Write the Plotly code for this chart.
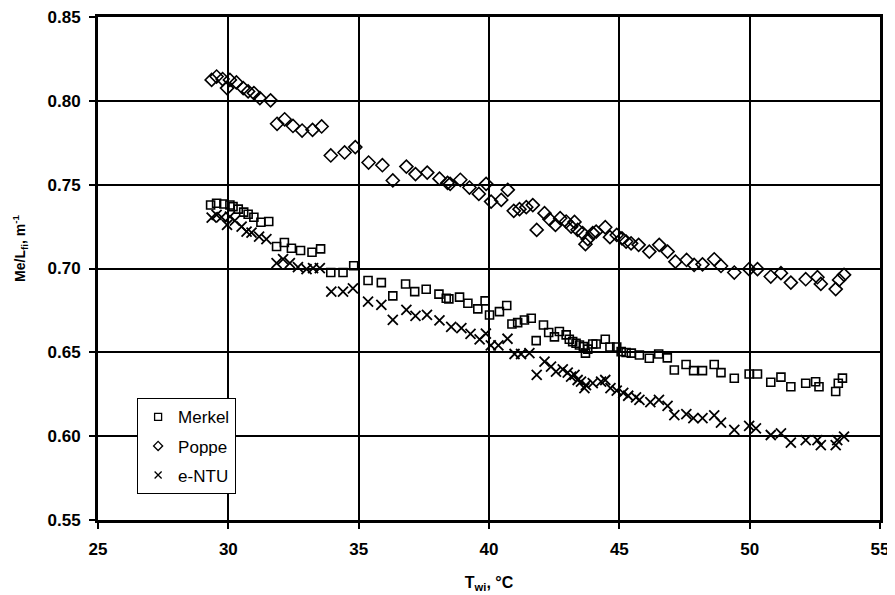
import plotly.graph_objects as go

merkel_x = [29.32, 29.55, 29.83, 30.06, 30.18, 30.38, 30.59, 30.76, 30.98, 31.25, 31.55,
            31.85, 32.15, 32.42, 32.77, 33.21, 33.54, 33.93, 34.40, 34.81, 35.36, 35.87,
            36.31, 36.80, 37.15, 37.59, 38.08, 38.36, 38.46, 38.87, 39.19, 39.57, 39.85,
            40.02, 40.40, 40.68, 40.88, 41.10, 41.36, 41.62, 41.81, 42.09, 42.29, 42.51,
            42.70, 42.96, 43.08, 43.21, 43.34, 43.47, 43.62, 43.70, 43.79, 43.98, 44.11,
            44.46, 44.64, 44.90, 45.07, 45.26, 45.46, 45.77, 46.15, 46.51, 46.84, 47.11,
            47.56, 47.85, 48.19, 48.64, 48.90, 49.41, 49.98, 50.30, 50.81, 51.20, 51.58,
            52.15, 52.53, 52.66, 53.30, 53.40, 53.56]
merkel_y = [0.7379, 0.7389, 0.7385, 0.7379, 0.7369, 0.7354, 0.7336, 0.7324, 0.7306, 0.7276, 0.7280,
            0.7131, 0.7155, 0.7121, 0.7107, 0.7097, 0.7117, 0.6976, 0.6976, 0.7016, 0.6928, 0.6916,
            0.6837, 0.6908, 0.6862, 0.6876, 0.6847, 0.6823, 0.6819, 0.6829, 0.6793, 0.6759, 0.6807,
            0.6723, 0.6743, 0.6779, 0.6669, 0.6677, 0.6693, 0.6703, 0.6570, 0.6663, 0.6618, 0.6592,
            0.6624, 0.6604, 0.6578, 0.6564, 0.6554, 0.6544, 0.6534, 0.6495, 0.6519, 0.6550, 0.6550,
            0.6578, 0.6532, 0.6532, 0.6504, 0.6499, 0.6495, 0.6484, 0.6465, 0.6490, 0.6467, 0.6395,
            0.6427, 0.6391, 0.6391, 0.6427, 0.6379, 0.6345, 0.6371, 0.6371, 0.6322, 0.6352, 0.6295,
            0.6316, 0.6325, 0.6295, 0.6266, 0.6316, 0.6346]

poppe_x = [29.36, 29.55, 29.78, 29.95, 30.06, 30.31, 30.57, 30.76, 30.98, 31.21, 31.62,
           31.87, 32.16, 32.48, 32.83, 33.23, 33.58, 33.93, 34.46, 34.87, 35.38, 35.91,
           36.31, 36.83, 37.18, 37.63, 38.10, 38.41, 38.51, 38.90, 39.25, 39.61, 39.89,
           40.08, 40.47, 40.72, 40.95, 41.17, 41.43, 41.68, 41.83, 42.13, 42.32, 42.55,
           42.73, 42.96, 43.15, 43.28, 43.40, 43.59, 43.70, 43.79, 43.98, 44.11, 44.46,
           44.64, 44.90, 45.10, 45.26, 45.45, 45.74, 46.15, 46.53, 46.85, 47.15, 47.58,
           47.87, 48.19, 48.64, 48.90, 49.41, 49.98, 50.30, 50.81, 51.20, 51.58, 52.15,
           52.60, 52.73, 53.30, 53.43, 53.62]
poppe_y = [0.8125, 0.8145, 0.8130, 0.8076, 0.8125, 0.8110, 0.8076, 0.8056, 0.8046, 0.8016, 0.8003,
           0.7863, 0.7890, 0.7850, 0.7823, 0.7827, 0.7847, 0.7674, 0.7692, 0.7724, 0.7632, 0.7616,
           0.7525, 0.7608, 0.7563, 0.7572, 0.7536, 0.7511, 0.7505, 0.7529, 0.7483, 0.7445, 0.7505,
           0.7399, 0.7409, 0.7469, 0.7344, 0.7354, 0.7366, 0.7378, 0.7230, 0.7330, 0.7294, 0.7260,
           0.7300, 0.7280, 0.7250, 0.7278, 0.7231, 0.7211, 0.7145, 0.7175, 0.7211, 0.7220, 0.7246,
           0.7187, 0.7200, 0.7180, 0.7161, 0.7150, 0.7141, 0.7101, 0.7141, 0.7101, 0.7041, 0.7051,
           0.7021, 0.7025, 0.7055, 0.7015, 0.6976, 0.6996, 0.6996, 0.6952, 0.6972, 0.6916, 0.6936,
           0.6948, 0.6908, 0.6877, 0.6932, 0.6962]

entu_x = [29.36, 29.55, 29.74, 29.95, 30.06, 30.25, 30.51, 30.70, 30.89, 31.18, 31.46,
          31.85, 32.10, 32.36, 32.67, 33.00, 33.25, 33.51, 33.95, 34.40, 34.78, 35.36,
          35.87, 36.31, 36.83, 37.18, 37.62, 38.10, 38.55, 38.94, 39.29, 39.64, 39.88,
          40.07, 40.36, 40.71, 40.98, 41.23, 41.55, 41.83, 42.13, 42.38, 42.57, 42.83,
          43.02, 43.15, 43.28, 43.40, 43.53, 43.66, 43.72, 43.98, 44.30, 44.46, 44.66,
          44.90, 45.15, 45.34, 45.64, 45.77, 46.19, 46.52, 46.85, 47.11, 47.57, 47.84,
          48.19, 48.64, 48.90, 49.41, 49.98, 50.24, 50.81, 51.20, 51.58, 52.15, 52.60,
          52.73, 53.30, 53.36, 53.62]
entu_y = [0.7304, 0.7320, 0.7306, 0.7260, 0.7310, 0.7286, 0.7250, 0.7220, 0.7214, 0.7190, 0.7175,
          0.7032, 0.7056, 0.7032, 0.7008, 0.6996, 0.7002, 0.7002, 0.6862, 0.6862, 0.6882, 0.6803,
          0.6783, 0.6693, 0.6753, 0.6717, 0.6723, 0.6690, 0.6652, 0.6644, 0.6610, 0.6577, 0.6612,
          0.6542, 0.6541, 0.6581, 0.6490, 0.6490, 0.6495, 0.6365, 0.6445, 0.6415, 0.6385, 0.6399,
          0.6379, 0.6355, 0.6365, 0.6335, 0.6325, 0.6286, 0.6305, 0.6316, 0.6325, 0.6335, 0.6286,
          0.6271, 0.6258, 0.6241, 0.6231, 0.6216, 0.6203, 0.6216, 0.6181, 0.6126, 0.6131, 0.6107,
          0.6107, 0.6124, 0.6081, 0.6037, 0.6061, 0.6047, 0.6007, 0.6017, 0.5961, 0.5977, 0.5977,
          0.5947, 0.5947, 0.5977, 0.5997]

x_ticks = [25, 30, 35, 40, 45, 50, 55]
y_ticks = [0.55, 0.60, 0.65, 0.70, 0.75, 0.80, 0.85]
y_tick_text = ["0.55", "0.60", "0.65", "0.70", "0.75", "0.80", "0.85"]

series_names = ["Merkel", "Poppe", "e-NTU"]
series_symbols = ["square-open", "diamond-open", "x-thin-open"]

FONT = "Liberation Sans, Arial, sans-serif"

fig = go.Figure()
data_x = [merkel_x, poppe_x, entu_x]
data_y = [merkel_y, poppe_y, entu_y]
sizes = [8, 10, 10]
lws = [1.6, 1.6, 1.8]
for name, sym, xs, ys, sz, lw in zip(series_names, series_symbols, data_x, data_y, sizes, lws):
    fig.add_trace(go.Scatter(x=xs, y=ys, mode="markers", name=name, showlegend=False,
                             marker=dict(symbol=sym, size=sz, color="black",
                                         line=dict(width=lw, color="black"))))
# legend entries (smaller symbols, as in the reference legend)
for i, (name, sym) in enumerate(zip(series_names, series_symbols)):
    fig.add_trace(go.Scatter(x=[None], y=[None], mode="markers", name=name,
                             legendgroup=f"g{i}", showlegend=True,
                             marker=dict(symbol=sym, size=7, color="black",
                                         line=dict(width=1.3, color="black"))))

# page body adds an 8px offset, so the figure is sized 887x587
fig.update_layout(
    width=887, height=587,
    margin=dict(l=90, r=15, t=9, b=75),
    paper_bgcolor="white", plot_bgcolor="white",
    font=dict(family=FONT, color="black", size=13),
    showlegend=True,
    legend=dict(x=0.05, y=0.242, xanchor="left", yanchor="top",
                bgcolor="white", bordercolor="black", borderwidth=1,
                font=dict(family=FONT, size=17, color="black"),
                tracegroupgap=4, itemsizing="trace", itemwidth=30),
    xaxis=dict(range=[25, 55], tickvals=x_ticks, ticktext=[str(v) for v in x_ticks],
               showgrid=True, gridcolor="black", gridwidth=1.5,
               showline=True, linecolor="black", linewidth=3, mirror=True,
               ticks="outside", ticklen=6, tickwidth=1.5, tickcolor="black",
               ticklabelstandoff=6, ticklabeloverflow="allow",
               tickfont=dict(family=FONT, size=17, color="black", weight="bold"),
               zeroline=False, automargin=False,
               title=dict(text="<b>T<sub>wi</sub>, °C</b>", font=dict(family=FONT, size=16),
                          standoff=19)),
    yaxis=dict(range=[0.55, 0.85], tickvals=y_ticks, ticktext=y_tick_text,
               showgrid=True, gridcolor="black", gridwidth=1.5,
               showline=True, linecolor="black", linewidth=3, mirror=True,
               ticks="outside", ticklen=6, tickwidth=1.5, tickcolor="black",
               ticklabelstandoff=5, ticklabeloverflow="allow",
               tickfont=dict(family=FONT, size=17, color="black", weight="bold"),
               zeroline=False, automargin=False),
    annotations=[dict(text="<b>Me/L<sub>fi</sub>, m<sup>-1</sup></b>",
                      xref="paper", yref="paper", x=-0.099, y=0.54,
                      xanchor="center", yanchor="middle", textangle=-90,
                      showarrow=False, font=dict(family=FONT, size=14, color="black"))],
)

fig.write_html("out.html")
